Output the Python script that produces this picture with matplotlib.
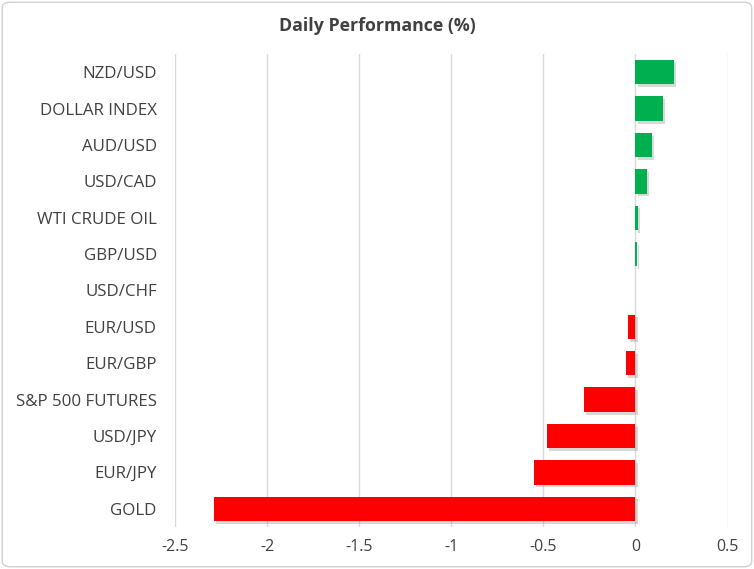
import matplotlib.pyplot as plt
import matplotlib.patheffects as pe
from matplotlib.patches import FancyBboxPatch

# dados do grafico
labels = ['NZD/USD', 'DOLLAR INDEX', 'AUD/USD', 'USD/CAD', 'WTI CRUDE OIL', 'GBP/USD',
          'USD/CHF', 'EUR/USD', 'EUR/GBP', 'S&P 500 FUTURES', 'USD/JPY', 'EUR/JPY', 'GOLD']
values = [0.21, 0.15, 0.09, 0.06, 0.015, 0.008, 0.0, -0.04, -0.05, -0.28, -0.48, -0.55, -2.29]
ticks = [-2.5, -2, -1.5, -1, -0.5, 0, 0.5]
tick_labels = ['-2.5', '-2', '-1.5', '-1', '-0.5', '0', '0.5']

plt.rcParams['font.family'] = ['Open Sans', 'DejaVu Sans']
txt = '#404040'

fig = plt.figure(figsize=(7.54, 5.69), dpi=100)
ax = fig.add_axes([0.232, 0.074, 0.733, 0.831])

colors = ['#00B050' if v > 0 else '#FF0000' for v in values]
pos = list(range(len(labels)))
bars = ax.barh(pos, values, height=0.67, color=colors, zorder=3)
for b in bars:
    b.set_path_effects([pe.SimplePatchShadow(offset=(1.5, -2), shadow_rgbFace='#909090', alpha=0.35),
                        pe.Normal()])

ax.set_ylim(len(labels) - 0.5, -0.5)
ax.set_xlim(-2.5, 0.5)
ax.set_yticks(pos)
ax.set_yticklabels(labels, fontsize=12.2, color=txt)
ax.set_xticks(ticks)
ax.set_xticklabels(tick_labels, fontsize=11.5, color=txt)
ax.tick_params(length=0)
ax.tick_params(axis='x', pad=9)
ax.tick_params(axis='y', pad=13)
ax.grid(axis='x', color='#D9D9D9', linewidth=1, zorder=0)
for s in ax.spines.values():
    s.set_visible(False)

fig.text(0.5, 0.955, 'Daily Performance (%)', ha='center', va='center',
         fontsize=12.8, fontweight='bold', color=txt)

# moldura da figura
border = FancyBboxPatch((0.003, 0.004), 0.994, 0.992, boxstyle='round,pad=0,rounding_size=0.01',
                        transform=fig.transFigure, fill=False, edgecolor='#D0D0D0', linewidth=1)
fig.patches.append(border)

fig.savefig('out.png', dpi=100)
